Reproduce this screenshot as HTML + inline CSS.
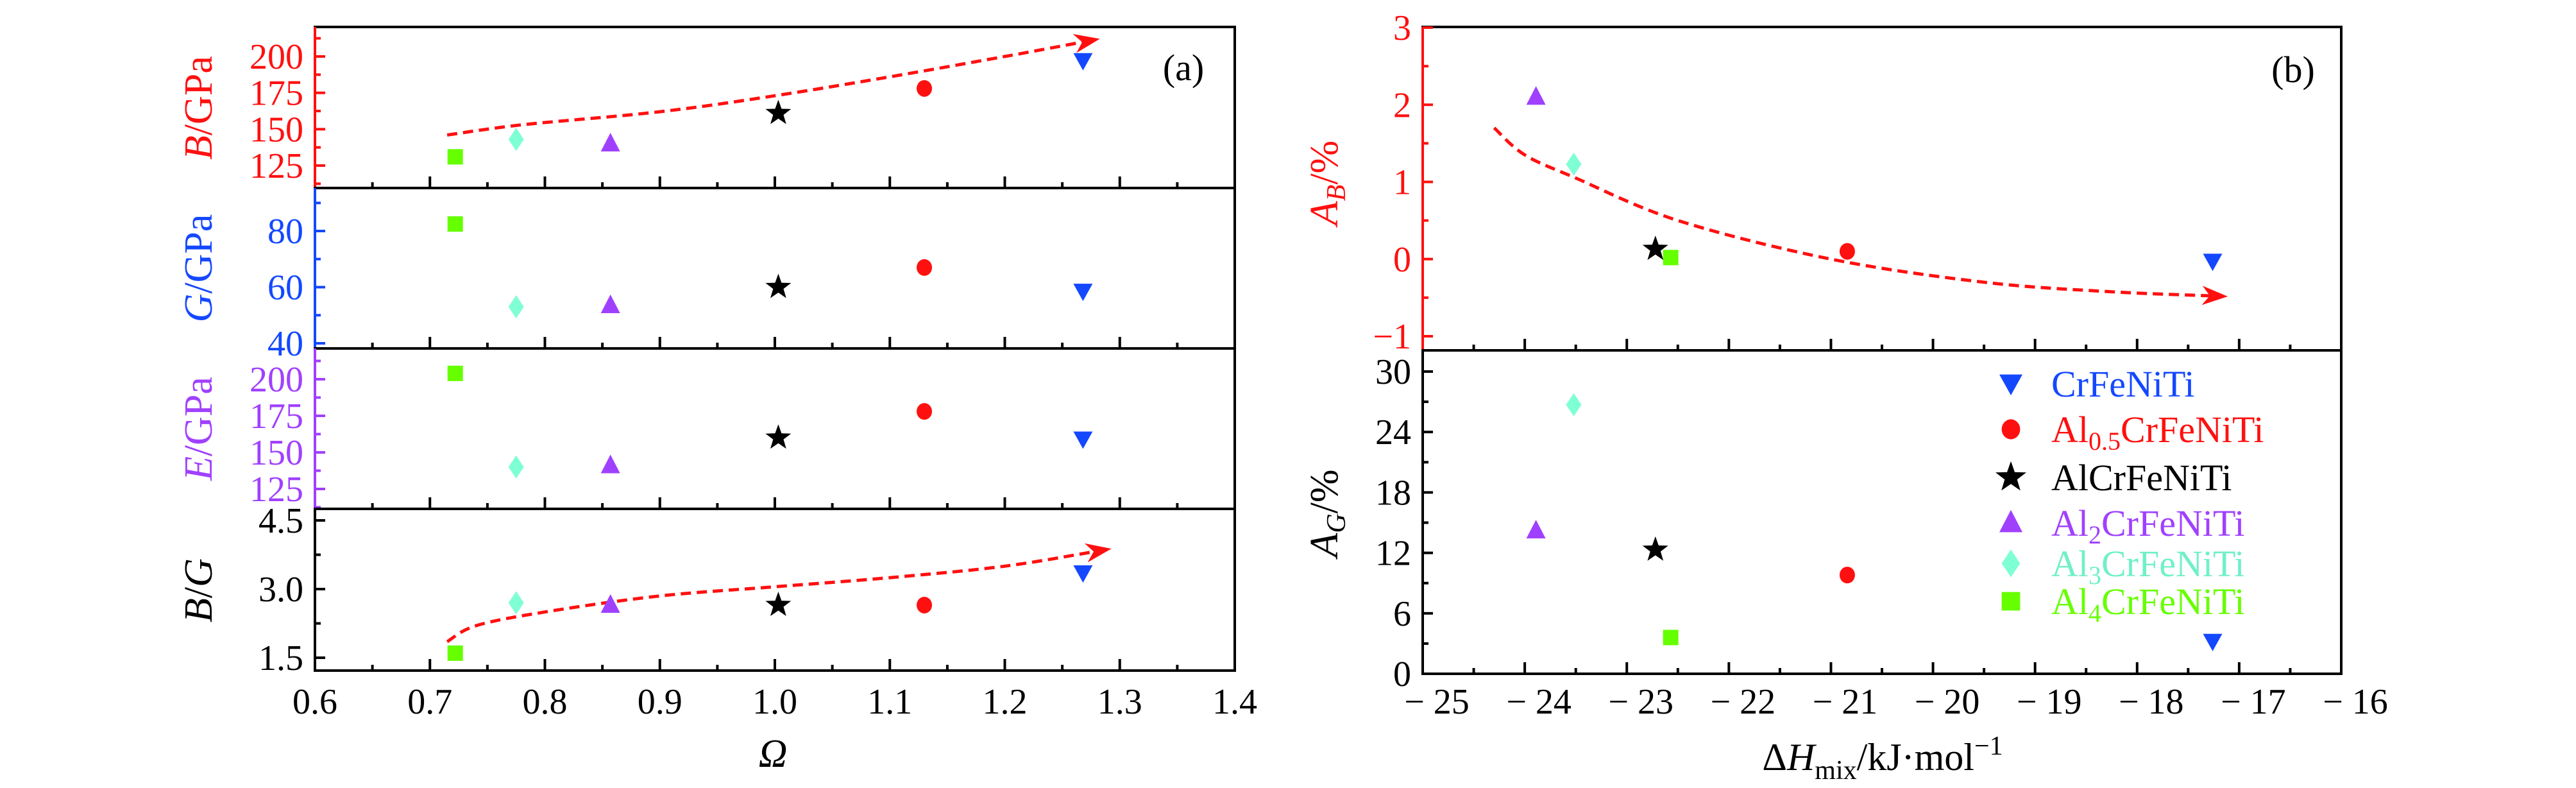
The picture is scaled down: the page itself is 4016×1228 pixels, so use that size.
<!DOCTYPE html>
<html><head><meta charset="utf-8"><style>
html,body{margin:0;padding:0;background:#fff}
svg{display:block}
text{font-family:"Liberation Serif",serif}
</style></head><body>
<svg id="fig" width="4016" height="1228" viewBox="0 0 4016 1228" xmlns="http://www.w3.org/2000/svg"></svg>
<script>
// ---- data ----
const alloys = ["Al4CrFeNiTi","Al3CrFeNiTi","Al2CrFeNiTi","AlCrFeNiTi","Al0.5CrFeNiTi","CrFeNiTi"];
const omega = [0.722, 0.775, 0.857, 1.003, 1.130, 1.268];
const bulkB = [131, 143, 140, 161, 178, 197];
const shearG = [82.5, 53, 53.5, 60, 67, 58.5];
const youngE = [204, 140, 141, 160, 178, 159];
const ratioBG = [1.6, 2.7, 2.65, 2.65, 2.65, 3.35];
const dHmix = [-22.57, -23.52, -23.89, -22.72, -20.84, -17.26];
const anisoB = [0.02, 1.23, 2.1, 0.13, 0.1, -0.03];
const anisoG = [3.6, 26.7, 14.2, 12.3, 9.8, 3.2];
const trendBx = [0.715, 0.78, 0.9, 1.0, 1.1, 1.2, 1.275];
const trendBy = [146, 153, 162, 173, 186, 200, 211];
const trendBGx = [0.715, 0.74, 0.8, 0.9, 1.0, 1.1, 1.2, 1.285];
const trendBGy = [1.85, 2.2, 2.5, 2.85, 3.05, 3.25, 3.5, 3.85];
const trendABx = [-24.3, -24.0, -23.5, -22.5, -21.0, -19.5, -18.3, -17.2];
const trendABy = [1.7, 1.35, 1.05, 0.5, 0.0, -0.3, -0.42, -0.48];
const ticksOmega = [0.6,0.7,0.8,0.9,1.0,1.1,1.2,1.3,1.4];
const ticksH = [-25,-24,-23,-22,-21,-20,-19,-18,-17,-16];
const ticksB = [125,150,175,200];
const ticksG = [40,60,80];
const ticksE = [125,150,175,200];
const ticksBG = [1.5,3.0,4.5];
const ticksAB = [-1,0,1,2,3];
const ticksAG = [0,6,12,18,24,30];
const colors = ["#66ff00","#7fffd4","#a040ff","#000000","#ff1010","#1448ff"];
const shapes = ["square","diamond","triangle","star","circle","tridown"];

const NS="http://www.w3.org/2000/svg";
const svg=document.getElementById('fig');
function el(tag,attrs,parent){const e=document.createElementNS(NS,tag);for(const k in attrs)e.setAttribute(k,attrs[k]);(parent||svg).appendChild(e);return e;}
function lin(d0,d1,r0,r1){return v=>r0+(v-d0)*(r1-r0)/(d1-d0);}

function marker(shape,x,y,c,g,s){
  s=s||1;let e;
  if(shape==="square") e=el('rect',{x:x-12*s,y:y-12*s,width:24*s,height:24*s,fill:c},g);
  else if(shape==="circle") e=el('ellipse',{cx:x,cy:y,rx:12*s,ry:13*s,fill:c},g);
  else if(shape==="diamond") e=el('polygon',{points:`${x},${y-18*s} ${x+12*s},${y} ${x},${y+18*s} ${x-12*s},${y}`,fill:c},g);
  else if(shape==="triangle") e=el('polygon',{points:`${x},${y-17*s} ${x+15*s},${y+12*s} ${x-15*s},${y+12*s}`,fill:c},g);
  else if(shape==="tridown") e=el('polygon',{points:`${x-15*s},${y-12*s} ${x+15*s},${y-12*s} ${x},${y+15*s}`,fill:c},g);
  else { let p=[];for(let i=0;i<10;i++){const r=i%2?8.5*s:21*s;const a=-Math.PI/2+i*Math.PI/5;p.push((x+r*Math.cos(a)).toFixed(1)+","+(y+r*Math.sin(a)).toFixed(1));}
    e=el('polygon',{points:p.join(" "),fill:c},g);}
  return e;
}

function panel(name,x0,x1,y0,y1,xs,ys,yticks,yminor,ycolor,ylabelFmt){
  const g=el('g',{});
  
  
  el('rect',{x:x0,y:y0,width:x1-x0,height:y1-y0,fill:'none',stroke:'#000','stroke-width':4},g);
  el('line',{x1:x0,y1:y0,x2:x0,y2:y1,stroke:ycolor,'stroke-width':4},g);
  yticks.forEach(v=>{const y=ys(v);el('line',{x1:x0,y1:y,x2:x0+16,y2:y,stroke:ycolor,'stroke-width':4},g);
    const t=el('text',{x:x0-18,y:y+19,'font-size':56,fill:ycolor,'text-anchor':'end'},g);t.textContent=ylabelFmt(v);
    
    });
  yminor.forEach(v=>{const y=ys(v);el('line',{x1:x0,y1:y,x2:x0+9,y2:y,stroke:ycolor,'stroke-width':4},g);});
  return g;
}
function xTicks(g,xs,ticks,y,step){
  for(let i=0;i<ticks.length-1;i++){
    for(let k=0;k<2;k++){const v=ticks[i]+k*step/2;const x=xs(v);if(i===0&&k===0)continue;
      el('line',{x1:x,y1:y,x2:x,y2:y-(k?9:18),stroke:'#000','stroke-width':4},g);}
  }
}
function path(xsA,ysA,xs,ys,g,name){
  const pts=xsA.map((v,i)=>[xs(v),ys(ysA[i])]);
  let d="M"+pts[0][0].toFixed(1)+" "+pts[0][1].toFixed(1);
  for(let i=0;i<pts.length-1;i++){
    const p0=pts[Math.max(i-1,0)],p1=pts[i],p2=pts[i+1],p3=pts[Math.min(i+2,pts.length-1)];
    const c1=[p1[0]+(p2[0]-p0[0])/6,p1[1]+(p2[1]-p0[1])/6],c2=[p2[0]-(p3[0]-p1[0])/6,p2[1]-(p3[1]-p1[1])/6];
    d+=` C${c1[0].toFixed(1)} ${c1[1].toFixed(1)} ${c2[0].toFixed(1)} ${c2[1].toFixed(1)} ${p2[0].toFixed(1)} ${p2[1].toFixed(1)}`;
  }
  const p=el('path',{d:d,fill:'none',stroke:'#ff1010','stroke-width':5,'stroke-dasharray':'16 9'},g);
  
  
  const n=pts.length;const ax=pts[n-1][0],ay=pts[n-1][1],bx=pts[n-2][0],by=pts[n-2][1];
  const a=Math.atan2(ay-by,ax-bx);const L=40,W=15;
  const tip=[ax+L*0.35*Math.cos(a),ay+L*0.35*Math.sin(a)];
  const back=[tip[0]-L*Math.cos(a),tip[1]-L*Math.sin(a)];
  const notch=[tip[0]-L*0.7*Math.cos(a),tip[1]-L*0.7*Math.sin(a)];
  const ah=el('polygon',{points:`${tip[0]},${tip[1]} ${back[0]-W*Math.sin(a)},${back[1]+W*Math.cos(a)} ${notch[0]},${notch[1]} ${back[0]+W*Math.sin(a)},${back[1]-W*Math.cos(a)}`,fill:'#ff1010'},g);
  
  
}
function scatter(g,xArr,yArr,xs,ys,name){
  xArr.forEach((v,i)=>{const m=marker(shapes[i],xs(v),ys(yArr[i]),colors[i],g);
    
    });
}
function ylabel(x,y,parts,color,name,size){
  const t=el('text',{x:x,y:y,'font-size':size||62,fill:color,'text-anchor':'middle',transform:`rotate(-90 ${x} ${y})`});
  
  
  parts.forEach(p=>{const s=el('tspan',p.a||{},t);s.textContent=p.t;});
}

// ---- left panel (a) ----
const LX0=491,LX1=1925;
const xo=lin(0.6,1.4,LX0,LX1);
const P=[[42,293],[293,543],[543,793],[793,1045]];
const yB=lin(125,200,258,88), yG=lin(40,80,535,360), yE=lin(125,200,762,591), yBG=lin(1.5,4.5,1025,811);
const gB=panel('bulk-modulus-panel',LX0,LX1,P[0][0],P[0][1],xo,yB,ticksB,[112.5,137.5,162.5,187.5,212.5],'#ff1010',v=>v);
const gG=panel('shear-modulus-panel',LX0,LX1,P[1][0],P[1][1],xo,yG,ticksG,[50,70,90],'#1448ff',v=>v);
const gE=panel('young-modulus-panel',LX0,LX1,P[2][0],P[2][1],xo,yE,ticksE,[112.5,137.5,162.5,187.5,212.5],'#a040ff',v=>v);
const gBG=panel('b-over-g-panel',LX0,LX1,P[3][0],P[3][1],xo,yBG,ticksBG,[2.25,3.75],'#000',v=>v.toFixed(1));
[gB,gG,gE,gBG].forEach((g,i)=>xTicks(g,xo,ticksOmega,P[i][1],0.1));
path(trendBx,trendBy,xo,yB,gB,'b-trend-arrow');
path(trendBGx,trendBGy,xo,yBG,gBG,'bg-trend-arrow');
scatter(gB,omega,bulkB,xo,yB,'bulk');
scatter(gG,omega,shearG,xo,yG,'shear');
scatter(gE,omega,youngE,xo,yE,'young');
scatter(gBG,omega,ratioBG,xo,yBG,'bg');
ticksOmega.forEach(v=>{const t=el('text',{x:xo(v),y:1112,'font-size':56,'text-anchor':'middle'});t.textContent=v.toFixed(1);
  
  });
{const t=el('text',{x:1205,y:1195,'font-size':62,'font-style':'italic','text-anchor':'middle'});t.textContent='Ω';
 
 }
{const t=el('text',{x:1845,y:125,'font-size':58,'text-anchor':'middle'});t.textContent='(a)';
 
 }
ylabel(330,168,[{t:'B',a:{'font-style':'italic'}},{t:'/GPa'}],'#ff1010','b-axis-title');
ylabel(330,418,[{t:'G',a:{'font-style':'italic'}},{t:'/GPa'}],'#1448ff','g-axis-title');
ylabel(330,668,[{t:'E',a:{'font-style':'italic'}},{t:'/GPa'}],'#a040ff','e-axis-title');
ylabel(330,920,[{t:'B',a:{'font-style':'italic'}},{t:'/'},{t:'G',a:{'font-style':'italic'}}],'#000','bg-axis-title');

// ---- right panel (b) ----
const RX0=2218,RX1=3650;
const xh=lin(-25,-16,RX0,RX1);
const yAB=lin(-1,3,524,43), yAG=lin(0,30,1050,579);
const gAB=panel('anisotropy-b-panel',RX0,RX1,42,546,xh,yAB,ticksAB,[-0.5,0.5,1.5,2.5],'#ff1010',v=>v<0?'−'+(-v):v);
const gAG=panel('anisotropy-g-panel',RX0,RX1,546,1050,xh,yAG,ticksAG,[3,9,15,21,27],'#000',v=>v);
xTicks(gAB,xh,ticksH,546,1);xTicks(gAG,xh,ticksH,1050,1);
path(trendABx,trendABy,xh,yAB,gAB,'ab-trend-arrow');
scatter(gAB,dHmix,anisoB,xh,yAB,'ab');
scatter(gAG,dHmix,anisoG,xh,yAG,'ag');
ticksH.forEach(v=>{const t=el('text',{x:xh(v)+22,y:1112,'font-size':56,'text-anchor':'middle'});t.textContent='− '+(-v);
  
  });
{const t=el('text',{x:2935,y:1200,'font-size':60,'text-anchor':'middle'});
 
 
 t.innerHTML='Δ<tspan font-style="italic">H</tspan><tspan font-size="42" dy="14">mix</tspan><tspan dy="-14">/kJ·mol</tspan><tspan font-size="42" dy="-24">−1</tspan>';}
{const t=el('text',{x:3575,y:128,'font-size':58,'text-anchor':'middle'});t.textContent='(b)';
 
 }
{const t=el('text',{x:2085,y:285,'font-size':62,fill:'#ff1010','text-anchor':'middle',transform:'rotate(-90 2085 285)'});
 
 t.innerHTML='<tspan font-style="italic">A</tspan><tspan font-style="italic" font-size="42" dy="12">B</tspan><tspan dy="-12">/%</tspan>';}
{const t=el('text',{x:2085,y:800,'font-size':62,fill:'#000','text-anchor':'middle',transform:'rotate(-90 2085 800)'});
 
 t.innerHTML='<tspan font-style="italic">A</tspan><tspan font-style="italic" font-size="42" dy="12">G</tspan><tspan dy="-12">/%</tspan>';}

// legend
const legOrder=[5,4,3,2,1,0];
const legY=[598,669,744,815,878,937];
const legLabels=['CrFeNiTi','Al<tspan font-size="40" dy="12">0.5</tspan><tspan dy="-12">CrFeNiTi</tspan>','AlCrFeNiTi','Al<tspan font-size="40" dy="12">2</tspan><tspan dy="-12">CrFeNiTi</tspan>','Al<tspan font-size="40" dy="12">3</tspan><tspan dy="-12">CrFeNiTi</tspan>','Al<tspan font-size="40" dy="12">4</tspan><tspan dy="-12">CrFeNiTi</tspan>'];
const lg=el('g',{});


legOrder.forEach((idx,i)=>{
  const m=marker(shapes[idx],3135,legY[i],colors[idx],lg,1.2);
  
  
  const t=el('text',{x:3198,y:legY[i]+20,'font-size':58,fill:colors[idx]==='#7fffd4'?'#70f0c8':colors[idx]},lg);
  
  
  t.innerHTML=legLabels[i];
});
</script>
</body></html>
